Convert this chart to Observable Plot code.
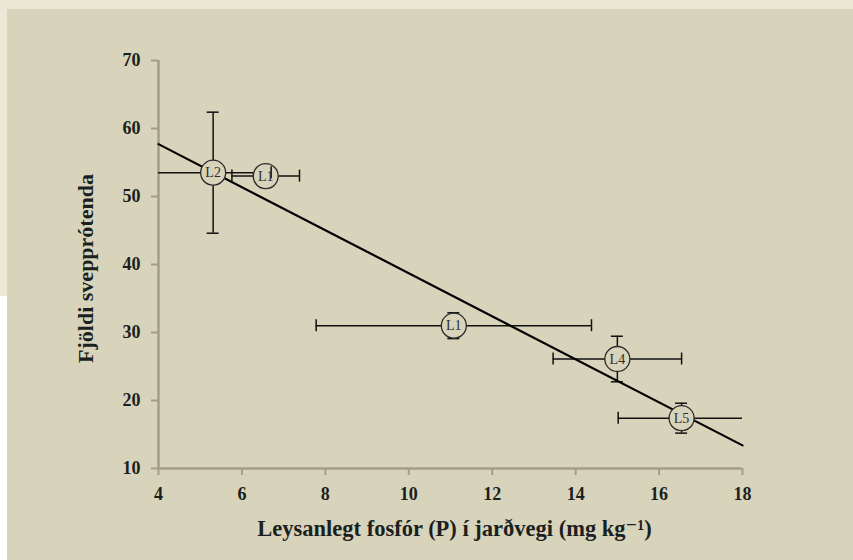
<!DOCTYPE html>
<html><head><meta charset="utf-8">
<script src="https://cdn.jsdelivr.net/npm/d3@7"></script>
<script src="https://cdn.jsdelivr.net/npm/@observablehq/plot@0.6"></script>
<style>
html,body{margin:0;padding:0;width:853px;height:560px;overflow:hidden;background:#ece8d6;}
#strip{position:absolute;left:0;top:296px;width:7px;height:264px;background:#ffffff;}
#panel{position:absolute;left:7px;top:9px;width:846px;height:551px;background:#d7d4bb;}
#chart{position:absolute;left:0;top:0;}
</style></head><body>
<div id="strip"></div><div id="panel"></div><div id="chart"></div>
<script>
// Data
const labels = ["L1", "L2", "L1", "L4", "L5"];
const phosphorus = [6.57, 5.31, 11.08, 15.0, 16.54];
const fungi = [53.0, 53.5, 31.0, 26.1, 17.4];
const phosphorusErr = [0.81, 1.39, 3.3, 1.54, 1.52];
const fungiErr = [0.8, 8.9, 1.9, 3.35, 2.2];
const trendX = [4, 18];
const trendY = [57.7, 13.4];
const xTicks = [4, 6, 8, 10, 12, 14, 16, 18];
const yTicks = [10, 20, 30, 40, 50, 60, 70];
const xLabel = "Leysanlegt fosfór (P) í jarðvegi (mg kg⁻¹)";
const yLabel = "Fjöldi svepprótenda";

const pts = labels.map((l, i) => ({label: l, x: phosphorus[i], y: fungi[i], xe: phosphorusErr[i], ye: fungiErr[i]}));
const trend = trendX.map((x, i) => ({x, y: trendY[i]}));

const axisColor = "#a59d87";
const ink = "#1b1f1e";
const font = "'Liberation Serif', 'DejaVu Serif', serif";
const bar = {stroke: "#111", strokeWidth: 1.5, clip: true};

const chart = Plot.plot({
  width: 853,
  height: 560,
  marginLeft: 158,
  marginRight: 111,
  marginTop: 60,
  marginBottom: 92,
  style: {background: "transparent", fontFamily: font, color: ink},
  x: {domain: [4, 18]},
  y: {domain: [10, 70]},
  marks: [
    Plot.ruleX([4], {stroke: axisColor, strokeWidth: 2.5}),
    Plot.ruleY([10], {stroke: axisColor, strokeWidth: 2.5}),
    Plot.axisX({ticks: xTicks, tickSize: 7, tickPadding: 12, stroke: axisColor, strokeWidth: 2, fill: ink, fontSize: 18, fontWeight: "bold", label: null}),
    Plot.axisY({ticks: yTicks, tickSize: 7, tickPadding: 11, stroke: axisColor, strokeWidth: 2, fill: ink, fontSize: 18, fontWeight: "bold", label: null}),
    // vertical error bars
    Plot.ruleX(pts, {x: "x", y1: d => d.y - d.ye, y2: d => d.y + d.ye, ...bar}),
    Plot.ruleY(pts, {y: d => d.y + d.ye, x1: "x", x2: "x", insetLeft: -6, insetRight: -6, ...bar}),
    Plot.ruleY(pts, {y: d => d.y - d.ye, x1: "x", x2: "x", insetLeft: -6, insetRight: -6, ...bar}),
    // horizontal error bars
    Plot.ruleY(pts, {y: "y", x1: d => d.x - d.xe, x2: d => d.x + d.xe, ...bar}),
    // trend line
    Plot.line(trend, {x: "x", y: "y", stroke: "#000", strokeWidth: 2.2}),
    // markers
    Plot.dot(pts, {x: "x", y: "y", r: 12.5, fill: "#d7d4bb", stroke: "#2a2a2a", strokeWidth: 1.3}),
    // horizontal error bar caps
    Plot.ruleX(pts, {x: d => d.x - d.xe, y1: "y", y2: "y", insetTop: -6, insetBottom: -6, ...bar}),
    Plot.ruleX(pts, {x: d => d.x + d.xe, y1: "y", y2: "y", insetTop: -6, insetBottom: -6, ...bar}),
    Plot.text(pts, {x: "x", y: "y", text: "label", fontSize: 14, fill: "#2e2e2e", fontFamily: font}),
    // axis titles
    Plot.text([yLabel], {frameAnchor: "left", dx: -73, dy: 4, rotate: -90, textAnchor: "middle", fontSize: 22, fontWeight: "bold", fill: ink, fontFamily: font}),
    Plot.text([xLabel], {frameAnchor: "bottom", dx: 4, dy: 67, fontSize: 22.5, fontWeight: "bold", fill: ink, fontFamily: font})
  ]
});
document.getElementById("chart").appendChild(chart);
</script>
</body></html>
